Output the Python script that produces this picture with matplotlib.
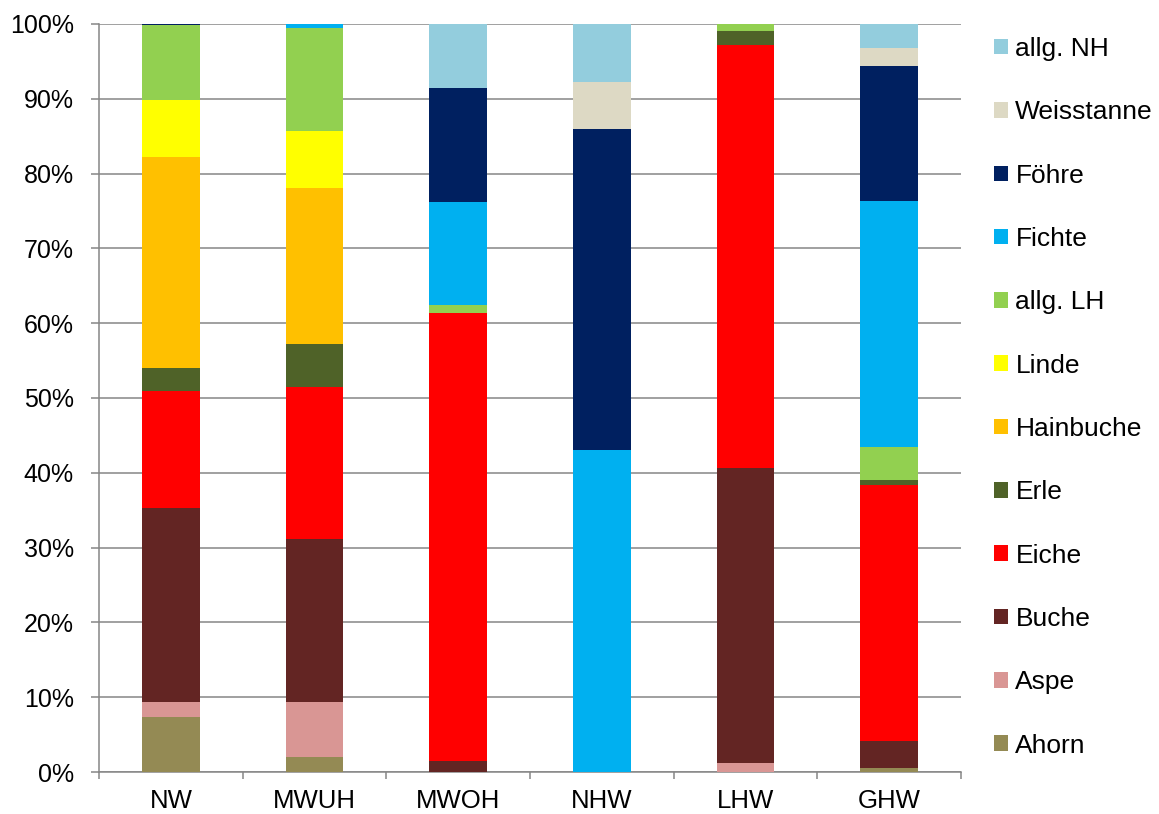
import numpy as np
import matplotlib
matplotlib.use("Agg")
import matplotlib.pyplot as plt
from matplotlib.patches import Patch

plt.rcParams["font.family"] = ["Liberation Sans", "DejaVu Sans"]

# stand types along the x axis
categories = ["NW", "MWUH", "MWOH", "NHW", "LHW", "GHW"]

# share of each tree species per stand type (%), bottom to top
ahorn      = [7.3, 2.0, 0.0, 0.0, 0.0, 0.5]
aspe       = [2.0, 7.4, 0.0, 0.0, 1.2, 0.0]
buche      = [26.0, 21.7, 1.5, 0.0, 39.4, 3.6]
eiche      = [15.7, 20.4, 59.9, 0.0, 56.6, 34.3]
erle       = [3.0, 5.7, 0.0, 0.0, 1.9, 0.6]
hainbuche  = [28.2, 20.9, 0.0, 0.0, 0.0, 0.0]
linde      = [7.6, 7.6, 0.0, 0.0, 0.0, 0.0]
allg_lh    = [10.0, 13.7, 1.0, 0.0, 0.9, 4.4]
fichte     = [0.0, 0.6, 13.8, 43.0, 0.0, 32.9]
foehre     = [0.2, 0.0, 15.2, 43.0, 0.0, 18.1]
weisstanne = [0.0, 0.0, 0.0, 6.2, 0.0, 2.4]
allg_nh    = [0.0, 0.0, 8.6, 7.8, 0.0, 3.2]

species = ["Ahorn", "Aspe", "Buche", "Eiche", "Erle", "Hainbuche", "Linde",
           "allg. LH", "Fichte", "Föhre", "Weisstanne", "allg. NH"]
values = [ahorn, aspe, buche, eiche, erle, hainbuche, linde,
          allg_lh, fichte, foehre, weisstanne, allg_nh]
colors = ["#948A54", "#D99694", "#632523", "#FF0000", "#4F6228", "#FFC000",
          "#FFFF00", "#92D050", "#00B0F0", "#002060", "#DDD9C4", "#93CDDD"]

fig = plt.figure(figsize=(11.59, 8.14), dpi=100)
ax = fig.add_axes([99 / 1159, 1 - 772 / 814, 862 / 1159, 748 / 814])

x = np.arange(len(categories))
data = np.array(values, dtype=float)
shares = data / data.sum(axis=0) * 100  # normalise to 100 %
bottom = np.zeros(len(categories))
for name, vals, col in zip(species, shares, colors):
    ax.bar(x, vals, 0.4, bottom=bottom, color=col, label=name, zorder=3)
    bottom += vals

grid_c = "#868686"
ax.set_xlim(-0.5, len(categories) - 0.5)
ax.set_ylim(0, 100)
ax.set_yticks(np.arange(0, 101, 10))
ax.set_yticklabels([f"{v}%" for v in range(0, 101, 10)])
ax.yaxis.grid(True, color=grid_c, lw=1.1, zorder=0)
ax.set_xticks(x)
ax.set_xticklabels(categories)
ax.set_xticks(np.arange(-0.5, len(categories)), minor=True)
ax.tick_params(axis="x", which="major", length=0, pad=12, labelsize=18.5)
ax.tick_params(axis="x", which="minor", length=5, width=1.1, color=grid_c, direction="out")
ax.tick_params(axis="y", length=6, width=1.1, color=grid_c, pad=12, labelsize=18)
for s in ["top", "right"]:
    ax.spines[s].set_visible(False)
for s in ["left", "bottom"]:
    ax.spines[s].set_color(grid_c)
    ax.spines[s].set_linewidth(1.1)

handles = [Patch(facecolor=c, label=n) for n, c in zip(species, colors)][::-1]
fig.legend(handles=handles, loc="upper left", bbox_to_anchor=(994 / 1159, 1 - 37 / 814),
           frameon=False, fontsize=19, handlelength=0.53, handleheight=0.53,
           handletextpad=0.28, labelspacing=1.49, borderaxespad=0, borderpad=0)

fig.savefig("out.png", dpi=100)
